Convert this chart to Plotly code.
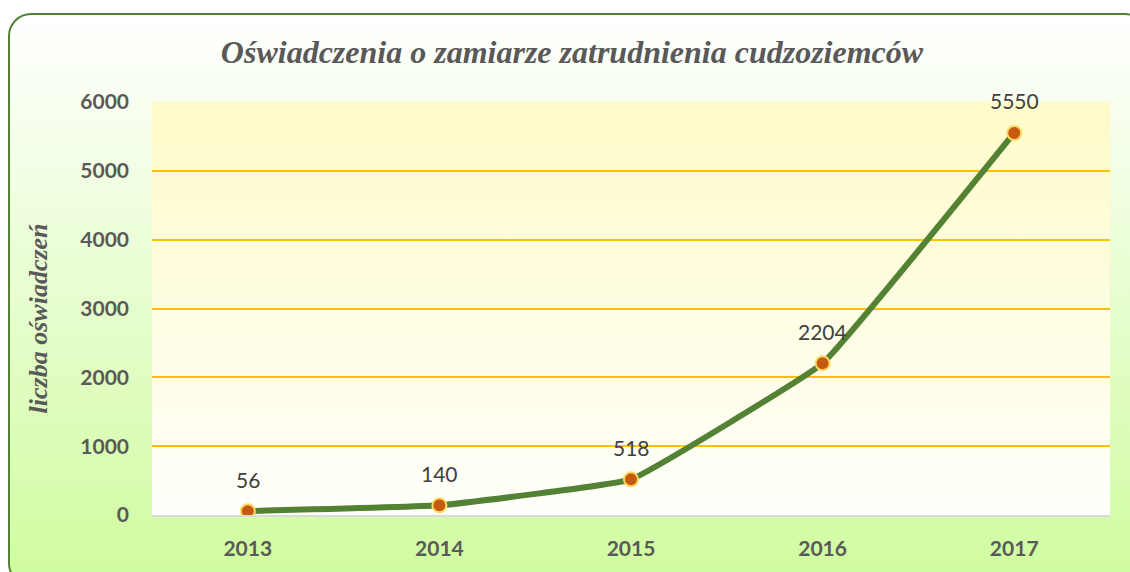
import base64
import plotly.graph_objects as go

years = ["2013", "2014", "2015", "2016", "2017"]
values = [56, 140, 518, 2204, 5550]
y_ticks = [0, 1000, 2000, 3000, 4000, 5000, 6000]
title_text = "Oświadczenia o zamiarze zatrudnienia cudzoziemców"
y_title_text = "liczba oświadczeń"

W, H = 1130, 572
L, R, T, B = 152, 20, 102, 52
pw, ph = W - L - R, H - T - B


def svg_uri(svg):
    return "data:image/svg+xml;base64," + base64.b64encode(svg.encode("utf-8")).decode("ascii")


fw, fh = 1140, 580
frame_svg = f'''<svg xmlns="http://www.w3.org/2000/svg" width="{fw}" height="{fh}" viewBox="0 0 {fw} {fh}">
<defs><linearGradient id="g" x1="0" y1="0" x2="0" y2="1">
<stop offset="0" stop-color="#ffffff"/><stop offset="1" stop-color="#cffc9e"/></linearGradient></defs>
<rect x="1" y="1" width="{fw-2}" height="{fh-2}" rx="22" ry="22" fill="url(#g)" stroke="#548235" stroke-width="2"/>
</svg>'''

plot_svg = f'''<svg xmlns="http://www.w3.org/2000/svg" width="{pw}" height="{ph}" viewBox="0 0 {pw} {ph}">
<defs><linearGradient id="p" x1="0" y1="0" x2="0" y2="1">
<stop offset="0" stop-color="#fffbc9"/><stop offset="1" stop-color="#fffffb"/></linearGradient></defs>
<rect x="0" y="0" width="{pw}" height="{ph}" fill="url(#p)"/>
</svg>'''

fx0, fy0 = 8, 12

fig = go.Figure()
fig.add_trace(go.Scatter(
    x=years, y=values, mode="lines+markers",
    line=dict(color="#548235", width=6, shape="spline", smoothing=0.25),
    marker=dict(size=14, color="#c55a11", line=dict(color="#ffd966", width=2)),
    hoverinfo="skip", showlegend=False,
))

for i, v in enumerate(values):
    fig.add_annotation(x=i, y=v, xref="x", yref="y", text=str(v), showarrow=False, yshift=32,
                       font=dict(family="Lato", size=21, color="#404040"))

fig.add_annotation(
    xref="paper", yref="paper", x=(38 - L) / pw, y=(H - B - 321) / ph,
    text=y_title_text, textangle=-90, showarrow=False, xanchor="center", yanchor="middle",
    font=dict(family="Liberation Serif", size=26, color="#595959", weight="bold", style="italic"),
)

fig.update_layout(
    width=W, height=H,
    margin=dict(l=L, r=R, t=T, b=B),
    paper_bgcolor="white",
    plot_bgcolor="rgba(0,0,0,0)",
    title=dict(text=title_text, x=(572 - L) / pw, xref="paper", xanchor="center",
               y=1 - 52 / H, yanchor="middle",
               font=dict(family="Liberation Serif", size=32, color="#595959", weight="bold", style="italic")),
    images=[
        dict(source=svg_uri(frame_svg), xref="paper", yref="paper",
             x=(fx0 - L) / pw, y=(H - B - fy0) / ph, sizex=fw / pw, sizey=fh / ph,
             xanchor="left", yanchor="top", sizing="stretch", layer="below"),
        dict(source=svg_uri(plot_svg), xref="paper", yref="paper",
             x=0, y=1, sizex=1, sizey=1,
             xanchor="left", yanchor="top", sizing="stretch", layer="below"),
    ],
    xaxis=dict(type="category", range=[-0.5, 4.5], showgrid=False, zeroline=False,
               showline=True, linecolor="#d9d9d9", linewidth=2,
               ticks="", ticklabelstandoff=14,
               tickfont=dict(family="Lato", size=21, color="#595959", weight="bold")),
    yaxis=dict(range=[0, 6000], tickvals=y_ticks, showgrid=True, gridcolor="#ffc000", gridwidth=2,
               zeroline=False, showline=False, ticks="", ticklabelstandoff=22,
               tickfont=dict(family="Lato", size=21, color="#595959", weight="bold")),
)

fig.write_html("out.html", config={"displayModeBar": False},
               post_script="document.body.style.margin='0';document.body.style.padding='0';")
